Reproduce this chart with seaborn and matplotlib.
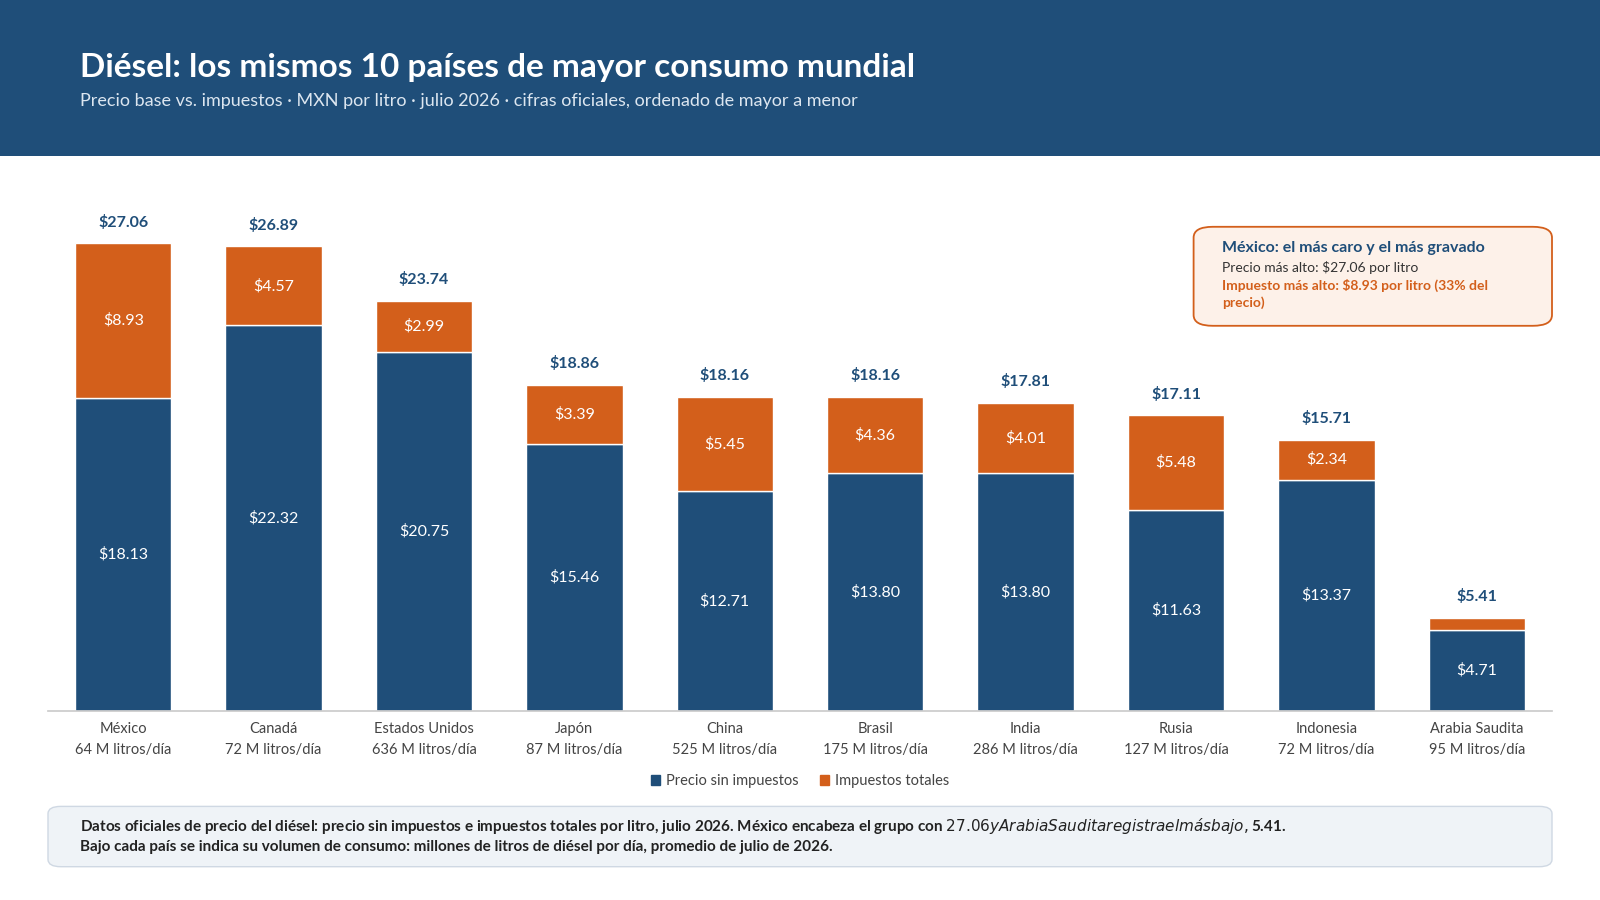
import numpy as np
import pandas as pd
import seaborn as sns
import matplotlib.pyplot as plt
from matplotlib.patches import FancyBboxPatch, Patch

# datos
paises = ['México', 'Canadá', 'Estados Unidos', 'Japón', 'China', 'Brasil',
          'India', 'Rusia', 'Indonesia', 'Arabia Saudita']
consumo = ['64 M litros/día', '72 M litros/día', '636 M litros/día', '87 M litros/día',
           '525 M litros/día', '175 M litros/día', '286 M litros/día', '127 M litros/día',
           '72 M litros/día', '95 M litros/día']
precio_base = [18.13, 22.32, 20.75, 15.46, 12.71, 13.80, 13.80, 11.63, 13.37, 4.71]
impuestos = [8.93, 4.57, 2.99, 3.39, 5.45, 4.36, 4.01, 5.48, 2.34, 0.70]
totales = [27.06, 26.89, 23.74, 18.86, 18.16, 18.16, 17.81, 17.11, 15.71, 5.41]

AZUL = '#1f4e79'
NARANJA = '#d35f1b'

sns.set_theme(style='white')
plt.rcParams['font.family'] = ['Lato', 'DejaVu Sans']

df = pd.DataFrame({'pais': paises, 'base': precio_base, 'imp': impuestos})

fig = plt.figure(figsize=(16, 9), dpi=100)
fig.patch.set_facecolor('white')

# encabezado
fig.patches.append(plt.Rectangle((0, 0.827), 1, 0.173, transform=fig.transFigure,
                                 facecolor=AZUL, edgecolor='none', zorder=0))
fig.text(0.05, 0.925, 'Diésel: los mismos 10 países de mayor consumo mundial',
         color='white', fontsize=24, fontweight='bold', va='center')
fig.text(0.05, 0.888, 'Precio base vs. impuestos · MXN por litro · julio 2026 · cifras oficiales, ordenado de mayor a menor',
         color='#dce6f0', fontsize=13, va='center')

ax = fig.add_axes([0.03, 0.21, 0.94, 0.576])
sns.barplot(data=df, x='pais', y='base', color=AZUL, width=0.64, saturation=1,
            edgecolor='white', linewidth=1, ax=ax)
sns.barplot(data=df, x='pais', y='imp', bottom=df['base'], color=NARANJA, width=0.64,
            saturation=1, edgecolor='white', linewidth=1, ax=ax)

for i in range(len(paises)):
    ax.text(i, precio_base[i] / 2, f'${precio_base[i]:.2f}', ha='center', va='center',
            color='white', fontsize=11.5)
    if impuestos[i] > 1.5:
        ax.text(i, precio_base[i] + impuestos[i] / 2, f'${impuestos[i]:.2f}', ha='center',
                va='center', color='white', fontsize=11.5)
    ax.text(i, totales[i] + 0.8, f'${totales[i]:.2f}', ha='center', va='bottom',
            color=AZUL, fontsize=11.5, fontweight='bold')

ax.set_ylim(0, 30)
ax.set_xlim(-0.5, len(paises) - 0.5)
ax.set_yticks([])
ax.set_ylabel('')
ax.set_xlabel('')
ax.set_xticks(range(len(paises)))
ax.set_xticklabels([f'{p}\n{c}' for p, c in zip(paises, consumo)], fontsize=10.5,
                   color='#444444', linespacing=1.6)
ax.tick_params(axis='x', length=0, pad=8)
for s in ['top', 'right', 'left']:
    ax.spines[s].set_visible(False)
ax.spines['bottom'].set_color('#cccccc')

handles = [Patch(color=AZUL, label='Precio sin impuestos'),
           Patch(color=NARANJA, label='Impuestos totales')]
fig.legend(handles=handles, loc='center', bbox_to_anchor=(0.5, 0.132), ncol=2,
           frameon=False, fontsize=10.5, handlelength=0.6, handleheight=0.6,
           columnspacing=1.5, handletextpad=0.4, labelcolor='#444444')

# cuadro de nota
fig.patches.append(FancyBboxPatch((0.746, 0.638), 0.224, 0.11, transform=fig.transFigure,
                                  boxstyle='round,pad=0,rounding_size=0.012',
                                  facecolor='#fdf1e9', edgecolor=NARANJA, linewidth=1.3))
fig.text(0.764, 0.724, 'México: el más caro y el más gravado', color=AZUL,
         fontsize=11.5, fontweight='bold', va='center')
fig.text(0.764, 0.703, 'Precio más alto: $27.06 por litro', color='#333333',
         fontsize=10, va='center')
fig.text(0.764, 0.673, 'Impuesto más alto: $8.93 por litro (33% del\nprecio)', color=NARANJA,
         fontsize=10, fontweight='bold', va='center', linespacing=1.4)

# pie
fig.patches.append(FancyBboxPatch((0.03, 0.037), 0.94, 0.067, transform=fig.transFigure,
                                  boxstyle='round,pad=0,rounding_size=0.008',
                                  facecolor='#eff3f7', edgecolor='#cfd8e3', linewidth=1))
fig.text(0.05, 0.082, 'Datos oficiales de precio del diésel: precio sin impuestos e impuestos totales por litro, '
         'julio 2026. México encabeza el grupo con $27.06 y Arabia Saudita registra el más bajo, $5.41.',
         color='#222222', fontsize=11, fontweight='bold', va='center')
fig.text(0.05, 0.059, 'Bajo cada país se indica su volumen de consumo: millones de litros de diésel por día, '
         'promedio de julio de 2026.', color='#222222', fontsize=11, fontweight='bold', va='center')

fig.savefig('out.png', dpi=100)
